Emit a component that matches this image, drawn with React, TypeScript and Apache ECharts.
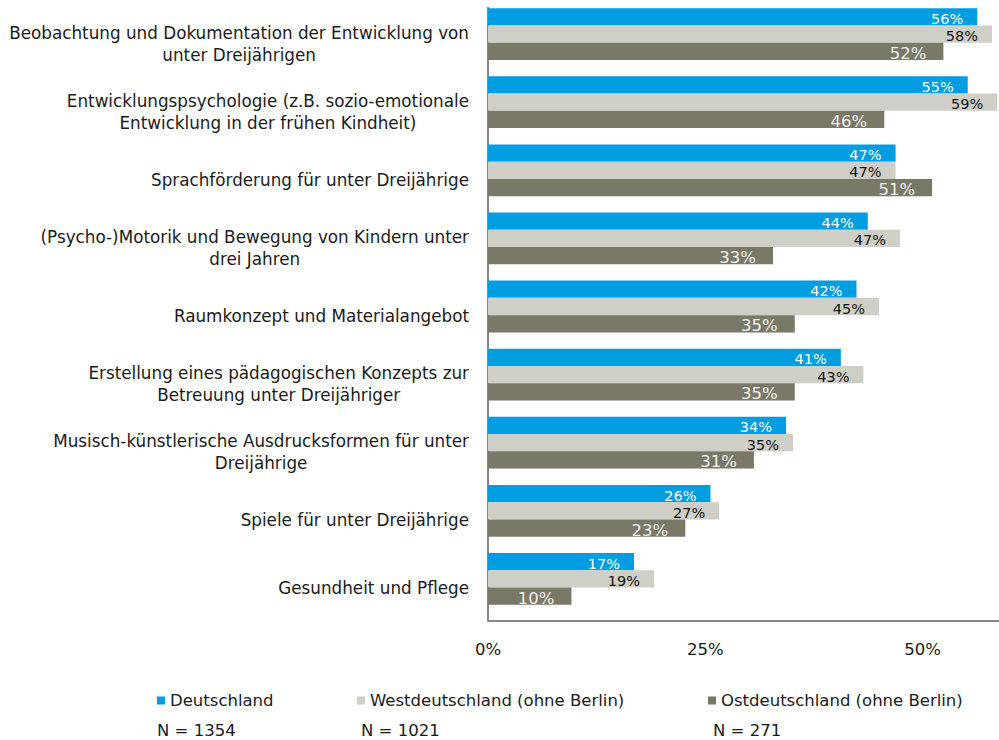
import React, { useEffect, useRef } from "react";
import * as echarts from "echarts";

const categories = [
  "Beobachtung und Dokumentation der Entwicklung von\nunter Dreijährigen",
  "Entwicklungspsychologie (z.B. sozio-emotionale\nEntwicklung in der frühen Kindheit)",
  "Sprachförderung für unter Dreijährige",
  "(Psycho-)Motorik und Bewegung von Kindern unter\ndrei Jahren",
  "Raumkonzept und Materialangebot",
  "Erstellung eines pädagogischen Konzepts zur\nBetreuung unter Dreijähriger",
  "Musisch-künstlerische Ausdrucksformen für unter\nDreijährige",
  "Spiele für unter Dreijährige",
  "Gesundheit und Pflege",
];

const seriesNames = [
  "Deutschland",
  "Westdeutschland (ohne Berlin)",
  "Ostdeutschland (ohne Berlin)",
];

const deutschland = [56.3, 55.2, 46.9, 43.7, 42.4, 40.6, 34.3, 25.6, 16.8];
const west = [58.0, 58.6, 46.9, 47.4, 45.0, 43.2, 35.1, 26.6, 19.1];
const ost = [52.4, 45.6, 51.1, 32.8, 35.3, 35.3, 30.6, 22.7, 9.6];

const sampleSizes = ["N = 1354", "N = 1021", "N = 271"];

const xTicks = [0, 25, 50];

const FONT = "DejaVu Sans";
const TEXT = "#1a1a1a";
const COLORS = ["#009ee0", "#d0cfc7", "#7a7866"];
const AXIS = "#868686";

export default function App() {
  const ref = useRef<HTMLDivElement>(null);

  useEffect(() => {
    if (!ref.current) return;
    const chart = echarts.init(ref.current, null, { renderer: "svg" });

    const mkSeries = (name: string, data: number[], idx: number, labelColor: string, fs: number, dist: number) => ({
      name,
      type: "bar",
      data,
      barGap: "0%",
      barCategoryGap: "24%",
      itemStyle: { color: COLORS[idx] },
      label: {
        show: true,
        position: "insideRight",
        distance: dist,
        offset: [0, 2],
        formatter: (p: any) => Math.round(p.value) + "%",
        color: labelColor,
        fontSize: fs,
        fontFamily: FONT,
      },
    });

    const legendLefts = [152, 352, 703];

    chart.setOption({
      animation: false,
      backgroundColor: "#ffffff",
      textStyle: { fontFamily: FONT },
      grid: { left: 488, top: -1, width: 511, height: 614, containLabel: false },
      xAxis: {
        type: "value",
        min: 0,
        max: 58.8,
        interval: 25,
        offset: 8,
        axisLine: { show: true, lineStyle: { color: AXIS, width: 2 } },
        axisTick: { show: false },
        splitLine: { show: false },
        axisLabel: {
          margin: 20,
          fontSize: 16.5,
          fontFamily: FONT,
          color: TEXT,
          showMaxLabel: false,
          formatter: (v: number) => (xTicks.indexOf(v) >= 0 ? v + "%" : ""),
        },
      },
      yAxis: {
        type: "category",
        inverse: true,
        data: categories,
        axisLine: { show: false },
        axisTick: { show: false },
        axisLabel: {
          margin: 19,
          padding: [19, 0, 0, 0],
          fontSize: 16.8,
          fontFamily: FONT,
          color: TEXT,
          lineHeight: 22,
          formatter: (v: string) =>
            v
              .split("\n")
              .map((l) => "{c|" + l + "}")
              .join("\n"),
          rich: {
            c: {
              align: "center",
              fontSize: 16.8,
              fontFamily: FONT,
              color: TEXT,
              lineHeight: 22,
            },
          },
        },
      },
      legend: seriesNames.map((n, i) => ({
        data: [n],
        left: legendLefts[i],
        top: 687,
        icon: "rect",
        itemWidth: 8,
        itemHeight: 8,
        selectedMode: false,
        textStyle: { fontSize: 16.5, fontFamily: FONT, color: TEXT },
      })),
      graphic: [
        {
          type: "line",
          shape: { x1: 488, y1: 7, x2: 488, y2: 621 },
          style: { stroke: AXIS, lineWidth: 2 },
        },
        ...sampleSizes.map((s, i) => ({
          type: "text",
          left: [157, 361, 713][i],
          top: 722,
          style: { text: s, fontSize: 16.5, fontFamily: FONT, fill: TEXT },
        })),
      ],
      series: [
        mkSeries(seriesNames[0], deutschland, 0, "#ffffff", 14.5, 14),
        mkSeries(seriesNames[1], west, 1, "#111111", 14.5, 14),
        mkSeries(seriesNames[2], ost, 2, "#f2f2f2", 16.5, 17),
      ],
    });

    return () => chart.dispose();
  }, []);

  return (
    <div
      ref={ref}
      style={{ position: "fixed", left: 0, top: 0, width: 999, height: 740 }}
    />
  );
}
